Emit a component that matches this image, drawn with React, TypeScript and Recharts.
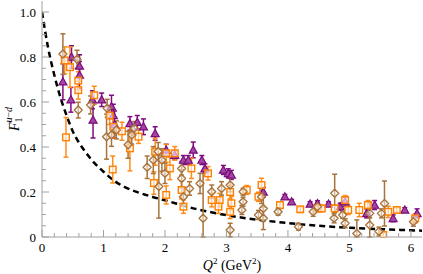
import { ComposedChart, Scatter, Line, XAxis, YAxis, ErrorBar } from "recharts";

// purple triangles
const purpleQ2 = [0.34, 0.47, 0.48, 0.61, 0.61, 0.83, 0.82, 0.97, 1.13, 1.16, 1.18, 1.43, 1.55, 1.65, 1.84, 2.02, 2.16, 2.3, 2.38, 2.46, 2.6, 2.65, 2.95, 3.03, 3.08, 3.6, 3.95, 4.06, 4.36, 4.48, 4.66, 4.85, 4.93, 5.28, 5.41, 5.71, 5.9, 6.1];
const purpleF = [0.69, 0.61, 0.8, 0.76, 0.72, 0.52, 0.61, 0.61, 0.58, 0.54, 0.5, 0.505, 0.51, 0.49, 0.46, 0.387, 0.364, 0.342, 0.342, 0.387, 0.342, 0.305, 0.298, 0.283, 0.276, 0.2, 0.179, 0.157, 0.147, 0.149, 0.147, 0.135, 0.157, 0.105, 0.142, 0.083, 0.12, 0.105];
const purpleErr = [0.08, 0.055, 0.05, 0.05, 0.06, 0.08, 0.04, 0.03, 0.05, 0.05, 0.06, 0.03, 0.03, 0.035, 0.03, 0.025, 0.02, 0.02, 0.02, 0.035, 0.02, 0.02, 0.02, 0.02, 0.02, 0.02, 0.01, 0.01, 0.01, 0.012, 0.01, 0.015, 0.02, 0.02, 0.02, 0.015, 0.01, 0.02];

// orange squares
const orangeQ2 = [0.37, 0.455, 0.39, 0.59, 0.59, 0.85, 1.1, 1.16, 1.15, 1.3, 1.43, 1.57, 1.84, 1.82, 2.02, 2.02, 2.08, 2.16, 2.27, 2.3, 2.43, 2.7, 2.76, 2.89, 2.87, 3.06, 3.08, 3.06, 3.33, 3.52, 3.57, 3.87, 4.2, 4.48, 4.55, 4.76, 4.93, 4.98, 5.16, 5.3, 5.55, 5.63, 5.77, 6.07];
const orangeF = [0.785, 0.755, 0.443, 0.695, 0.653, 0.63, 0.54, 0.49, 0.3, 0.47, 0.394, 0.446, 0.379, 0.24, 0.372, 0.187, 0.305, 0.372, 0.209, 0.135, 0.305, 0.283, 0.164, 0.164, 0.135, 0.2, 0.15, 0.112, 0.209, 0.179, 0.231, 0.142, 0.123, 0.127, 0.127, 0.127, 0.164, 0.12, 0.12, 0.142, 0.009, 0.112, 0.12, 0.083];
const orangeErr = [0.06, 0.09, 0.088, 0.04, 0.04, 0.04, 0.04, 0.05, 0.06, 0.04, 0.1, 0.03, 0.06, 0.05, 0.04, 0.04, 0.05, 0.03, 0.04, 0.03, 0.045, 0.03, 0.03, 0.03, 0.03, 0.03, 0.03, 0.03, 0.02, 0.02, 0.03, 0.015, 0.01, 0.015, 0.015, 0.015, 0.02, 0.02, 0.03, 0.02, 0.01, 0.025, 0.01, 0.02];

// brown diamonds
const brownQ2 = [0.34, 0.57, 0.59, 0.79, 1.06, 1.05, 1.13, 1.21, 1.4, 1.46, 1.5, 1.71, 1.81, 1.89, 1.9, 1.95, 2.0, 2.27, 2.27, 2.3, 2.4, 2.57, 2.62, 2.76, 2.92, 3.06, 3.06, 3.27, 3.27, 3.25, 3.57, 3.6, 3.52, 3.6, 3.84, 4.17, 4.41, 4.48, 4.76, 4.75, 4.89, 4.93, 5.12, 5.33, 5.33, 5.57, 5.52, 5.48, 6.04];
const brownF = [0.813, 0.79, 0.564, 0.587, 0.572, 0.446, 0.453, 0.476, 0.41, 0.453, 0.483, 0.31, 0.342, 0.38, 0.224, 0.342, 0.283, 0.26, 0.305, 0.179, 0.216, 0.238, 0.083, 0.201, 0.216, 0.231, 0.031, 0.201, 0.157, 0.12, 0.179, 0.127, 0.098, 0.083, 0.112, 0.046, 0.112, 0.135, 0.194, 0.083, 0.098, 0.061, 0.016, 0.105, 0.053, 0.149, 0.105, 0.024, 0.068];
const brownErr = [0.09, 0.04, 0.035, 0.04, 0.04, 0.1, 0.05, 0.04, 0.06, 0.04, 0.03, 0.05, 0.06, 0.04, 0.14, 0.05, 0.045, 0.04, 0.03, 0.04, 0.03, 0.045, 0.2, 0.03, 0.03, 0.03, 0.03, 0.015, 0.02, 0.02, 0.03, 0.05, 0.02, 0.05, 0.015, 0.015, 0.02, 0.015, 0.085, 0.02, 0.015, 0.02, 0.06, 0.02, 0.1, 0.1, 0.02, 0.02, 0.02];

// dashed curve
const curveQ2 = [0, 0.1, 0.2, 0.3, 0.4, 0.5, 0.6, 0.7, 0.8, 1.0, 1.2, 1.4, 1.6, 1.8, 2.0, 2.5, 3.0, 3.5, 4.0, 4.5, 5.0, 5.5, 6.0, 6.2];
const curveF = [1.0, 0.84, 0.72, 0.62, 0.54, 0.47, 0.42, 0.38, 0.345, 0.29, 0.245, 0.215, 0.195, 0.178, 0.163, 0.125, 0.097, 0.077, 0.062, 0.05, 0.041, 0.035, 0.03, 0.028];

const xMajor = [0, 1, 2, 3, 4, 5, 6];
const yMajor = [0, 0.2, 0.4, 0.6, 0.8, 1.0];
const xTicks = Array.from({ length: 31 }, (_, i) => +(i * 0.2).toFixed(1));
const yTicks = Array.from({ length: 21 }, (_, i) => +(i * 0.05).toFixed(2));

// error bars stop at the frame bottom (F = 0)
const build = (q2: number[], f: number[], err: number[]) =>
  q2.map((x, i) => ({ x, y: f[i], e: [Math.min(err[i], f[i]), err[i]] }));

const purpleData = build(purpleQ2, purpleF, purpleErr);
const orangeData = build(orangeQ2, orangeF, orangeErr);
const brownData = build(brownQ2, brownF, brownErr);
const curveData = curveQ2.map((x, i) => ({ x, y: curveF[i] }));

const AXIS = "#a0a0a0";
const FONT = "Liberation Serif";

function BottomTick({ x, y, payload }: any) {
  const major = xMajor.includes(payload.value);
  return (
    <g>
      <line x1={x} x2={x} y1={y} y2={y - (major ? 7 : 4)} stroke={AXIS} />
      {major && (
        <text x={x} y={y + 15} textAnchor="middle" fontFamily={FONT} fontSize={13} fill="#000">
          {payload.value}
        </text>
      )}
    </g>
  );
}

function TopTick({ x, y, payload }: any) {
  const major = xMajor.includes(payload.value);
  return <line x1={x} x2={x} y1={y} y2={y + (major ? 7 : 4)} stroke={AXIS} />;
}

function LeftTick({ x, y, payload }: any) {
  const major = yMajor.includes(payload.value);
  return (
    <g>
      <line x1={x} x2={x + (major ? 7 : 4)} y1={y} y2={y} stroke={AXIS} />
      {major && (
        <text x={x - 6} y={y + 4.5} textAnchor="end" fontFamily={FONT} fontSize={13} fill="#000">
          {payload.value === 0 ? "0" : payload.value.toFixed(1)}
        </text>
      )}
    </g>
  );
}

function RightTick({ x, y, payload }: any) {
  const major = yMajor.includes(payload.value);
  return <line x1={x} x2={x - (major ? 7 : 4)} y1={y} y2={y} stroke={AXIS} />;
}

function XTitle({ viewBox }: any) {
  const cx = viewBox.x + viewBox.width / 2;
  const by = viewBox.y + 33;
  return (
    <text x={cx} y={by} textAnchor="middle" fontFamily={FONT} fontSize={14} fill="#000">
      <tspan fontStyle="italic">Q</tspan>
      <tspan fontSize={9} dy={-6}>2</tspan>
      <tspan dy={6}> (GeV</tspan>
      <tspan fontSize={9} dy={-6}>2</tspan>
      <tspan dy={6}>)</tspan>
    </text>
  );
}

function YTitle({ viewBox }: any) {
  const cx = 19;
  const cy = viewBox.y + viewBox.height / 2;
  return (
    <text x={cx} y={cy} transform={`rotate(-90, ${cx}, ${cy})`} textAnchor="middle" fontFamily={FONT} fontSize={14} fill="#000">
      <tspan fontStyle="italic">F</tspan>
      <tspan fontSize={10} dy={3}>1</tspan>
      <tspan fontSize={10} dy={-10} dx={-5} fontStyle="italic">u</tspan>
      <tspan fontSize={10}>−</tspan>
      <tspan fontSize={10} fontStyle="italic">d</tspan>
    </text>
  );
}

function Triangle({ cx, cy }: any) {
  const s = 4;
  return (
    <polygon
      points={`${cx},${cy - s} ${cx - s},${cy + s * 0.8} ${cx + s},${cy + s * 0.8}`}
      fill="#a347a3"
      stroke="#7b0c7b"
      strokeWidth={1.2}
    />
  );
}

function Square({ cx, cy }: any) {
  return <rect x={cx - 3.3} y={cy - 3.3} width={6.6} height={6.6} fill="#fff" fillOpacity={0.6} stroke="#ff8000" strokeWidth={1.4} />;
}

function Diamond({ cx, cy }: any) {
  const s = 4;
  return (
    <polygon
      points={`${cx},${cy - s} ${cx + s},${cy} ${cx},${cy + s} ${cx - s},${cy}`}
      fill="#fff"
      fillOpacity={0.5}
      stroke="#a8733c"
      strokeWidth={1.4}
      strokeLinejoin="round"
    />
  );
}

export default function App() {
  return (
    <div style={{ position: "absolute", left: 0, top: 0, width: 423, height: 274 }}>
      <ComposedChart width={423} height={274} margin={{ top: 1, right: 1, bottom: 0, left: 0 }}>
        <XAxis
          dataKey="x"
          type="number"
          domain={[0, 6.18]}
          allowDataOverflow
          ticks={xTicks}
          interval={0}
          tickSize={0}
          tickMargin={0}
          tickLine={false}
          tick={<BottomTick />}
          axisLine={{ stroke: AXIS }}
          height={37}
          label={<XTitle />}
        />
        <XAxis
          xAxisId="top"
          orientation="top"
          dataKey="x"
          type="number"
          domain={[0, 6.18]}
          allowDataOverflow
          ticks={xTicks}
          interval={0}
          tickSize={0}
          tickMargin={0}
          tickLine={false}
          tick={<TopTick />}
          axisLine={{ stroke: AXIS }}
          height={0}
        />
        <YAxis
          type="number"
          domain={[0, 1.049]}
          allowDataOverflow
          ticks={yTicks}
          interval={0}
          tickSize={0}
          tickMargin={0}
          tickLine={false}
          tick={<LeftTick />}
          axisLine={{ stroke: AXIS }}
          width={42}
          label={<YTitle />}
        />
        <YAxis
          yAxisId="right"
          orientation="right"
          type="number"
          domain={[0, 1.049]}
          allowDataOverflow
          ticks={yTicks}
          interval={0}
          tickSize={0}
          tickMargin={0}
          tickLine={false}
          tick={<RightTick />}
          axisLine={{ stroke: AXIS }}
          width={0}
        />
        <Line
          data={curveData}
          dataKey="y"
          type="monotone"
          stroke="#000"
          strokeWidth={2.5}
          strokeDasharray="6 4"
          dot={false}
          activeDot={false}
          isAnimationActive={false}
        />
        <Scatter data={purpleData} dataKey="y" shape={<Triangle />} isAnimationActive={false}>
          <ErrorBar dataKey="e" direction="y" width={2.5} stroke="#800a80" strokeWidth={1.5} />
        </Scatter>
        <Scatter data={orangeData} dataKey="y" shape={<Square />} isAnimationActive={false}>
          <ErrorBar dataKey="e" direction="y" width={2.5} stroke="#ff8c1a" strokeWidth={1.5} />
        </Scatter>
        <Scatter data={brownData} dataKey="y" shape={<Diamond />} isAnimationActive={false}>
          <ErrorBar dataKey="e" direction="y" width={2.5} stroke="#a8733c" strokeWidth={1.5} />
        </Scatter>
      </ComposedChart>
    </div>
  );
}
